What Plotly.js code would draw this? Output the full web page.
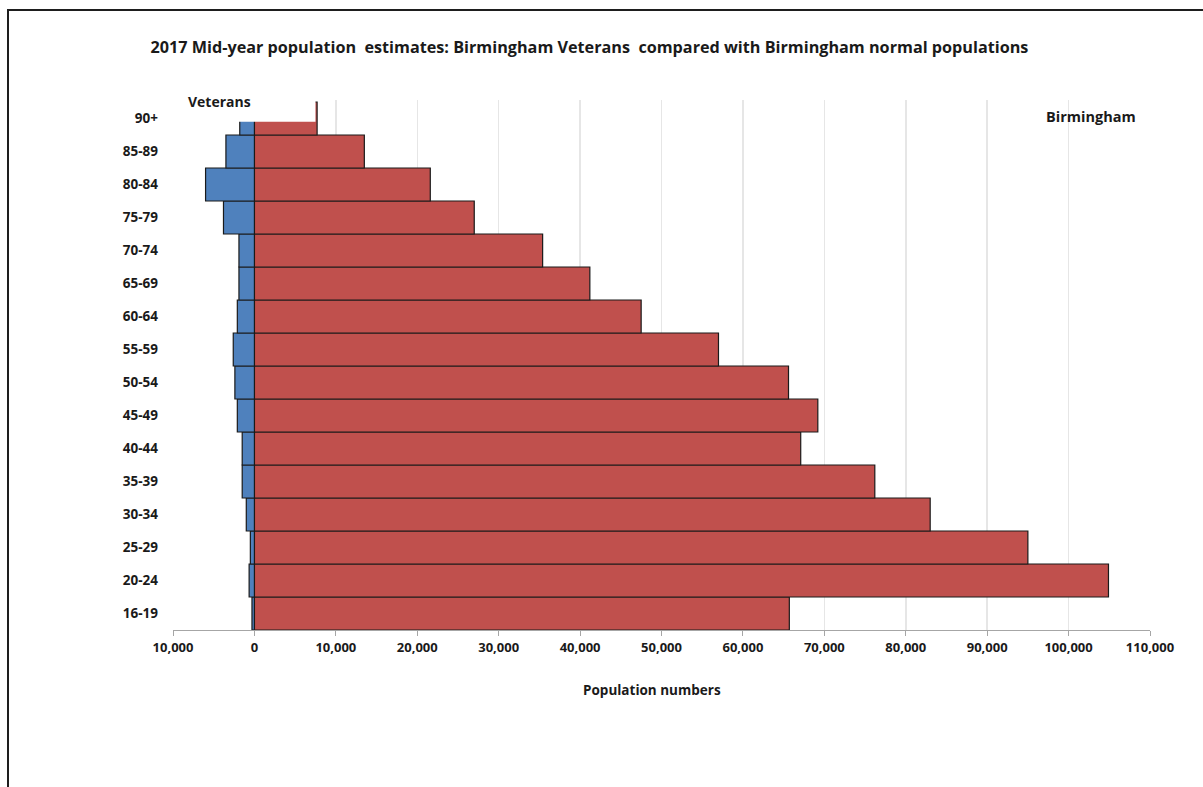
<!DOCTYPE html>
<html>
<head>
<meta charset="utf-8">
<script src="https://cdn.plot.ly/plotly-3.0.1.min.js"></script>
<style>
html,body{margin:0;padding:0;background:#fff;}
#wrap{position:relative;width:1203px;height:787px;}
#chart{position:absolute;left:0;top:0;width:1203px;height:787px;}
#frame{position:absolute;left:7px;top:9px;width:1196px;height:778px;border-top:2px solid #1e1e1e;border-left:2px solid #1e1e1e;box-sizing:border-box;pointer-events:none;}
</style>
</head>
<body>
<div id="wrap"><div id="chart"></div><div id="frame"></div></div>
<script>
const ageGroups = ['16-19','20-24','25-29','30-34','35-39','40-44','45-49','50-54','55-59','60-64','65-69','70-74','75-79','80-84','85-89','90+'];
const birminghamPop = [65700, 104900, 95000, 83000, 76200, 67100, 69200, 65600, 57000, 47500, 41200, 35400, 27000, 21600, 13500, 7700];
const veteransPop = [-300, -650, -500, -1000, -1500, -1500, -2100, -2400, -2600, -2100, -1900, -1900, -3800, -6000, -3500, -1800];
const tickValues = [-10000, 0, 10000, 20000, 30000, 40000, 50000, 60000, 70000, 80000, 90000, 100000, 110000];
const tickLabels = ['10,000','0','10,000','20,000','30,000','40,000','50,000','60,000','70,000','80,000','90,000','100,000','110,000'];

const FONT = 'Open Sans, Noto Sans, sans-serif';

const traces = [
  {
    type: 'bar', orientation: 'h', name: 'Birmingham',
    y: ageGroups, x: birminghamPop,
    marker: {color: '#c0504d', line: {color: '#1a1a1a', width: 1.2}},
    hoverinfo: 'skip'
  },
  {
    type: 'bar', orientation: 'h', name: 'Veterans',
    y: ageGroups, x: veteransPop,
    marker: {color: '#4f81bd', line: {color: '#1a1a1a', width: 1.2}},
    hoverinfo: 'skip'
  }
];

const layout = {
  width: 1203, height: 787,
  margin: {l: 173, r: 53, t: 100, b: 157},
  paper_bgcolor: '#ffffff', plot_bgcolor: '#ffffff',
  showlegend: false,
  barmode: 'relative', bargap: 0,
  font: {family: FONT, color: '#1a1a1a'},
  title: {
    text: '<b>2017 Mid-year population  estimates: Birmingham Veterans  compared with Birmingham normal populations</b>',
    font: {family: FONT, size: 16.2, color: '#1a1a1a'},
    x: 0.49, xanchor: 'center', xref: 'container',
    y: 0.940, yanchor: 'middle', yref: 'container'
  },
  xaxis: {
    range: [-10000, 110000],
    tickvals: tickValues, ticktext: tickLabels,
    tickfont: {family: FONT, size: 13, color: '#1a1a1a', weight: 'bold'},
    showgrid: true, gridcolor: '#e6e6e6', gridwidth: 1.5,
    zeroline: false,
    showline: true, linecolor: '#a6a6a6', linewidth: 1,
    ticks: 'outside', ticklen: 5, tickcolor: '#a6a6a6',
    automargin: false, fixedrange: true
  },
  yaxis: {
    type: 'category',
    categoryorder: 'array', categoryarray: ageGroups,
    tickfont: {family: FONT, size: 13.5, color: '#1a1a1a', weight: 'bold'},
    showgrid: false, zeroline: false, showline: false,
    ticks: '', ticklabelstandoff: 14,
    automargin: false, fixedrange: true
  },
  shapes: [
    {type: 'rect', xref: 'x', yref: 'y', x0: -8500, x1: 7500, y0: 14.9, y1: 15.56,
     fillcolor: '#ffffff', line: {width: 0}, layer: 'above'}
  ],
  annotations: [
    {text: '<b>Population numbers</b>', xref: 'paper', yref: 'paper', x: (651.5-173)/977, y: -(690-630)/530,
     xanchor: 'center', yanchor: 'middle', showarrow: false,
     font: {family: FONT, size: 13.5, color: '#1a1a1a'}},
    {text: '<b>Veterans</b>', xref: 'paper', yref: 'paper', x: (186-173)/977, y: 1 - 1/530,
     xanchor: 'left', yanchor: 'middle', showarrow: false,
     font: {family: FONT, size: 14, color: '#1a1a1a'}},
    {text: '<b>Birmingham</b>', xref: 'paper', yref: 'paper', x: (1138-173)/977, y: (630-116)/530,
     xanchor: 'right', yanchor: 'middle', showarrow: false,
     font: {family: FONT, size: 14.5, color: '#1a1a1a'}}
  ]
};

Plotly.newPlot('chart', traces, layout, {displayModeBar: false, staticPlot: true});
</script>
</body>
</html>
